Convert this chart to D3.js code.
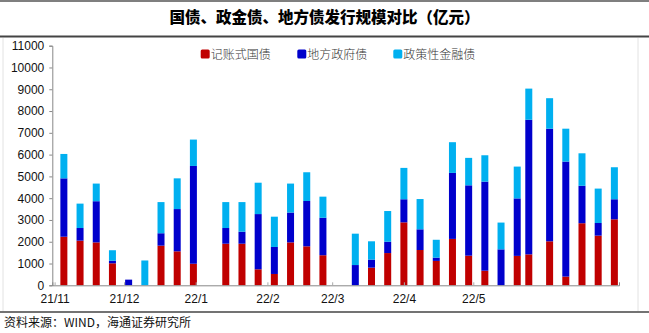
<!DOCTYPE html>
<html><head><meta charset="utf-8">
<script src="https://cdn.jsdelivr.net/npm/d3@7"></script>
<style>
html,body{margin:0;padding:0;background:#fff;}
svg{display:block;}
</style></head>
<body>
<svg id="c" width="649" height="333"></svg>
<script>
const dates = ["2021-11-05","2021-11-12","2021-11-19","2021-11-26","2021-12-03","2021-12-10","2021-12-17","2021-12-24","2021-12-31",
"2022-01-14","2022-01-21","2022-01-28","2022-02-04","2022-02-11","2022-02-18","2022-02-25",
"2022-03-11","2022-03-18","2022-03-25","2022-04-01","2022-04-08","2022-04-15","2022-04-22","2022-04-29",
"2022-05-06","2022-05-13","2022-05-20","2022-05-25","2022-06-03","2022-06-10","2022-06-17","2022-06-24","2022-07-01"];
const treasury = [2230,2050,1970,1010,0,0,1820,1560,990, 1910,1910,735,520,1970,1790,1380, 0,810,1480,2890,1620,1120,2130,1360, 670,0,1350,1420,2020,400,2850,2280,3030];
const localGov = [2680,580,1890,120,260,0,570,1940,4490, 720,550,2535,1240,1370,2080,1720, 930,370,520,1060,950,150,3030,3230, 4090,1650,2640,6180,5170,5280,1720,580,920];
const policyBank = [1120,1120,810,480,0,1140,1430,1410,1210, 1190,1360,1440,1390,1330,1320,970, 1440,840,1410,1440,1390,820,1410,1260, 1210,1230,1460,1430,1400,1510,1490,1580,1470];
const seriesNames = ["记账式国债","地方政府债","政策性金融债"];
const colors = ["#C00000","#0000CC","#00B0F0"];
const yTicks = [0,1000,2000,3000,4000,5000,6000,7000,8000,9000,10000,11000];
const xTickLabels = ["21/11","21/12","22/1","22/2","22/3","22/4","22/5"];
const title = "国债、政金债、地方债发行规模对比（亿元）";
const source = "资料来源：WIND，海通证券研究所";

const svg = d3.select("#c");
const parse = d3.timeParse("%Y-%m-%d");
const rows = dates.map((d,i)=>({date:parse(d), a:treasury[i], b:localGov[i], c:policyBank[i]}));

const x = d3.scaleTime().domain([parse("2021-10-31"), parse("2022-07-03")]).range([52.3, 619]);
const y = d3.scaleLinear().domain([0,11000]).range([285.3, 45.7]);

// frame
svg.append("rect").attr("x",0).attr("y",0).attr("width",649).attr("height",333).attr("fill","#fff");
svg.append("line").attr("x1",0).attr("x2",649).attr("y1",1).attr("y2",1).attr("stroke","#555").attr("stroke-width",1.5);
svg.append("line").attr("x1",0).attr("x2",649).attr("y1",36.5).attr("y2",36.5).attr("stroke","#444").attr("stroke-width",2);
svg.append("line").attr("x1",0).attr("x2",649).attr("y1",312).attr("y2",312).attr("stroke","#444").attr("stroke-width",1.5);
svg.append("line").attr("x1",3).attr("x2",3).attr("y1",38).attr("y2",311).attr("stroke","#e2e2e2");
svg.append("line").attr("x1",638).attr("x2",638).attr("y1",38).attr("y2",311).attr("stroke","#e2e2e2");

svg.append("text").attr("x",324.5).attr("y",23).attr("text-anchor","middle")
  .attr("font-family","'Noto Sans CJK SC'").attr("font-weight",900).attr("font-size",15.5).attr("fill","#000").text(title);

// stacked bars
const stack = d3.stack().keys(["a","b","c"])(rows);
const bw = 7;
stack.forEach((layer,li)=>{
  svg.append("g").selectAll("rect").data(layer).join("rect")
    .attr("x",d=>x(d.data.date)-bw/2)
    .attr("y",d=>y(d[1]))
    .attr("width",bw)
    .attr("height",d=>Math.max(0,y(d[0])-y(d[1])))
    .attr("fill",colors[li]);
});

// y axis
const yAxis = svg.append("g").attr("transform","translate(52.3,0)")
  .call(d3.axisLeft(y).tickValues(yTicks).tickSize(3).tickPadding(5).tickFormat(d3.format("d")));
yAxis.select(".domain").attr("stroke","#888");
yAxis.selectAll(".tick line").attr("stroke","#888");
yAxis.selectAll("text").attr("font-family","'Liberation Sans',Arial").attr("font-size",12).attr("fill","#111");

// x axis
const monthTicks = xTickLabels.map(s=>{const p=s.split("/");return new Date(2000+ +p[0], +p[1]-1, 1);});
const xAxis = svg.append("g").attr("transform","translate(0,285.3)")
  .call(d3.axisBottom(x).tickValues(monthTicks).tickSize(-3).tickPadding(9).tickFormat((d,i)=>xTickLabels[i]));
xAxis.select(".domain").attr("stroke","#888");
xAxis.selectAll(".tick line").attr("stroke","#aaa");
xAxis.selectAll("text").attr("font-family","'Liberation Sans',Arial").attr("font-size",12).attr("fill","#111");

// legend
const legX = [200.7, 297.3, 393.3];
seriesNames.forEach((n,i)=>{
  svg.append("rect").attr("x",legX[i]).attr("y",49.5).attr("width",9).attr("height",9).attr("rx",1.5).attr("fill",colors[i]);
  svg.append("text").attr("x",legX[i]+10).attr("y",58.5).attr("font-family","'Noto Sans CJK SC'").attr("font-weight",300).attr("font-size",12)
    .attr("fill","#333").text(n);
});

svg.append("text").attr("x",4).attr("y",327).attr("font-family","'Noto Sans CJK SC'").attr("font-size",12).attr("fill","#111").text(source);
</script>
</body></html>
